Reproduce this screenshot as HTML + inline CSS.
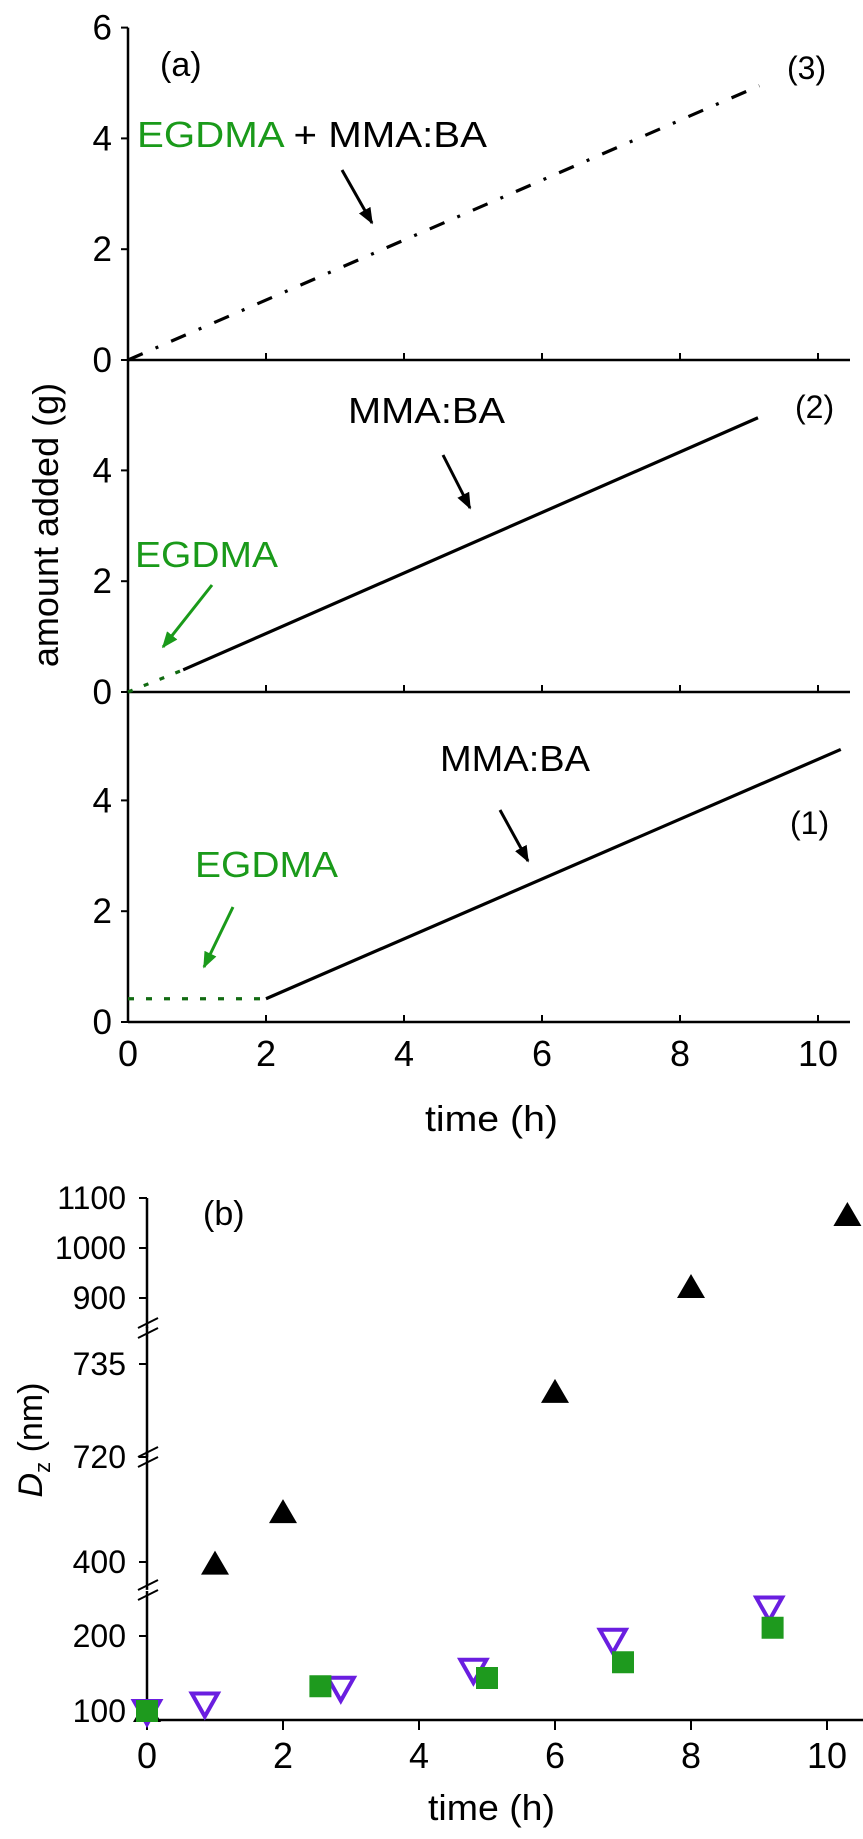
<!DOCTYPE html>
<html><head><meta charset="utf-8"><style>
html,body{margin:0;padding:0;background:#fff;}
svg{display:block;font-family:"Liberation Sans",Arial,sans-serif;}
</style></head><body>
<svg id="fig" width="863" height="1839" viewBox="0 0 863 1839" xmlns="http://www.w3.org/2000/svg">
<defs>
<marker id="ahk" viewBox="0 0 10 10" refX="9" refY="5" markerWidth="5.5" markerHeight="5.5" orient="auto"><path d="M0,1 L10,5 L0,9 z" fill="#000"/></marker>
<marker id="ahg" viewBox="0 0 10 10" refX="9" refY="5" markerWidth="5.5" markerHeight="5.5" orient="auto"><path d="M0,1 L10,5 L0,9 z" fill="#1a9a1a"/></marker>
</defs>
<g id="panelA"></g>
<g id="panelB"></g>
<text x="160" y="76" font-size="34">(a)</text>
<text x="137" y="147" font-size="36" textLength="350" lengthAdjust="spacingAndGlyphs"><tspan fill="#1a9a1a">EGDMA</tspan> + MMA:BA</text>
<line x1="342" y1="170" x2="372" y2="223" stroke="#000" stroke-width="3" marker-end="url(#ahk)"/>
<text x="787" y="79" font-size="32">(3)</text>
<text x="348" y="423" font-size="36" textLength="157" lengthAdjust="spacingAndGlyphs">MMA:BA</text>
<line x1="443" y1="455" x2="470" y2="508" stroke="#000" stroke-width="3" marker-end="url(#ahk)"/>
<text x="795" y="418" font-size="32">(2)</text>
<text x="135" y="567" font-size="36" fill="#1a9a1a" textLength="143" lengthAdjust="spacingAndGlyphs">EGDMA</text>
<line x1="212" y1="585" x2="163" y2="647" stroke="#1a9a1a" stroke-width="3" marker-end="url(#ahg)"/>
<text x="440" y="771" font-size="36" textLength="150" lengthAdjust="spacingAndGlyphs">MMA:BA</text>
<line x1="500" y1="810" x2="528" y2="861" stroke="#000" stroke-width="3" marker-end="url(#ahk)"/>
<text x="790" y="834" font-size="32">(1)</text>
<text x="195" y="877" font-size="36" fill="#1a9a1a" textLength="143" lengthAdjust="spacingAndGlyphs">EGDMA</text>
<line x1="233" y1="907" x2="204" y2="967" stroke="#1a9a1a" stroke-width="3" marker-end="url(#ahg)"/>
<text transform="translate(58,525) rotate(-90)" text-anchor="middle" font-size="36">amount added (g)</text>
<text x="425" y="1131" font-size="36" textLength="133" lengthAdjust="spacingAndGlyphs">time (h)</text>
<text x="203" y="1225" font-size="34">(b)</text>
<text transform="translate(42,1440) rotate(-90)" text-anchor="middle" font-size="34"><tspan font-style="italic">D</tspan><tspan font-size="22" dy="8">z</tspan><tspan dy="-8"> (nm)</tspan></text>
<text x="428" y="1820" font-size="36" textLength="127" lengthAdjust="spacingAndGlyphs">time (h)</text>
</svg>
<script>
// ---------- Panel (a) data ----------
const feedTimes3 = [0, 9.15];
const feedAmounts3 = [0, 4.95];
const egdmaTimes2 = [0, 0.8];
const egdmaAmounts2 = [0, 0.4];
const mmaTimes2 = [0.8, 9.13];
const mmaAmounts2 = [0.4, 4.95];
const egdmaTimes1 = [0, 2];
const egdmaAmounts1 = [0.42, 0.42];
const mmaTimes1 = [2, 10.33];
const mmaAmounts1 = [0.42, 4.92];
const yTicksA = [0, 2, 4, 6];
const xTicksA = [0, 2, 4, 6, 8, 10];

// ---------- Panel (b) data ----------
const triTimes = [0, 1, 2, 6, 8, 10.3];
const triDz = [100, 395, 552, 730.5, 922, 1066];
const invTimes = [0, 0.85, 2.85, 4.8, 6.85, 9.15];
const invDz = [100, 110, 131, 155, 195, 238];
const sqTimes = [0, 2.55, 5.0, 7.0, 9.2];
const sqDz = [100, 133, 144, 165, 211];
const yTicksB = [100, 200, 400, 720, 735, 900, 1000, 1100];
const xTicksB = [0, 2, 4, 6, 8, 10];

const NS = "http://www.w3.org/2000/svg";
function mk(parent, tag, attrs) {
  const e = document.createElementNS(NS, tag);
  for (const k in attrs) e.setAttribute(k, attrs[k]);
  parent.appendChild(e);
  return e;
}
const zeroA = [360, 692, 1022];
const xA = t => 128 + 69 * t;
const yA = (p, v) => zeroA[p] - 55.4 * v;

const gA = document.getElementById('panelA');
for (let p = 0; p < 3; p++) {
  const ax = mk(gA, 'line', {x1: 128, y1: yA(p, 6), x2: 128, y2: zeroA[p], stroke: '#000', 'stroke-width': 2.5});
  
  
  const xx = mk(gA, 'line', {x1: 128, y1: zeroA[p], x2: 850, y2: zeroA[p], stroke: '#000', 'stroke-width': 2.5});
  
  
  xTicksA.forEach(t => {
    const tk = mk(gA, 'line', {x1: xA(t), y1: zeroA[p], x2: xA(t), y2: zeroA[p] - 7, stroke: '#000', 'stroke-width': 2});
    
    
  });
  yTicksA.forEach(v => {
    if (p > 0 && v === 6) return;
    const tk = mk(gA, 'line', {x1: 121, y1: yA(p, v), x2: 128, y2: yA(p, v), stroke: '#000', 'stroke-width': 2});
    
    
    const lb = mk(gA, 'text', {x: 112, y: yA(p, v) + 12, 'text-anchor': 'end', 'font-size': 35});
    lb.textContent = v;
    
    
  });
}
xTicksA.forEach(t => {
  const lb = mk(gA, 'text', {x: xA(t), y: 1066, 'text-anchor': 'middle', 'font-size': 36});
  lb.textContent = t;
  
  
});
function lineA(p, ts, vs, stroke, dash, name) {
  const l = mk(gA, 'line', {x1: xA(ts[0]), y1: yA(p, vs[0]), x2: xA(ts[1]), y2: yA(p, vs[1]), stroke: stroke, 'stroke-width': 3.2});
  if (dash) l.setAttribute('stroke-dasharray', dash);
  
  
}
lineA(0, feedTimes3, feedAmounts3, '#000', '16 14 3 14', 'line-3-egdma-mma-ba');
lineA(1, egdmaTimes2, egdmaAmounts2, '#126b12', '5 12', 'line-2-egdma');
lineA(1, mmaTimes2, mmaAmounts2, '#000', null, 'line-2-mma-ba');
lineA(2, egdmaTimes1, egdmaAmounts1, '#126b12', '6 12', 'line-1-egdma');
lineA(2, mmaTimes1, mmaAmounts1, '#000', null, 'line-1-mma-ba');

const segs = [
  {lo: 88, hi: 260, ref: 200, py: 1636, k: 0.75},
  {lo: 315, hi: 720, ref: 400, py: 1562, k: 0.328},
  {lo: 720, hi: 741, ref: 720, py: 1457, k: 6.2},
  {lo: 840, hi: 1100, ref: 900, py: 1298, k: 0.5}
];
function yB(v) {
  let s = segs[0];
  for (const g of segs) if (v >= g.lo) s = g;
  return s.py - (v - s.ref) * s.k;
}
const xB = t => 147 + 68 * t;
const gB = document.getElementById('panelB');
segs.forEach(s => {
  const a = mk(gB, 'line', {x1: 147, y1: yB(s.hi) + (s.hi === 720 ? -6 : 0), x2: 147, y2: s.py - (s.lo - s.ref) * s.k, stroke: '#000', 'stroke-width': 2.5});
  
  
});
[1328, 1457, 1590].forEach(y => {
  [-5, 5].forEach(d => {
    const b = mk(gB, 'line', {x1: 138, y1: y + d + 5, x2: 158, y2: y + d - 5, stroke: '#000', 'stroke-width': 2});
    
    
  });
});
const xaxB = mk(gB, 'line', {x1: 147, y1: 1720, x2: 863, y2: 1720, stroke: '#000', 'stroke-width': 2.5});


xTicksB.forEach(t => {
  const tk = mk(gB, 'line', {x1: xB(t), y1: 1720, x2: xB(t), y2: 1730, stroke: '#000', 'stroke-width': 2});
  
  
  const lb = mk(gB, 'text', {x: xB(t), y: 1768, 'text-anchor': 'middle', 'font-size': 36});
  lb.textContent = t;
  
  
});
yTicksB.forEach(v => {
  const y = yB(v);
  const tk = mk(gB, 'line', {x1: 139, y1: y, x2: 147, y2: y, stroke: '#000', 'stroke-width': 2});
  
  
  const lb = mk(gB, 'text', {x: 126, y: y + 11, 'text-anchor': 'end', 'font-size': 32});
  lb.textContent = v;
  
  
});
triTimes.forEach((t, i) => {
  const x = xB(t), y = yB(triDz[i]);
  const m = mk(gB, 'path', {d: `M${x - 14},${y + 11} L${x + 14},${y + 11} L${x},${y - 13} Z`, fill: '#000'});
  
  
});
invTimes.forEach((t, i) => {
  const x = xB(t), y = yB(invDz[i]);
  const m = mk(gB, 'path', {d: `M${x - 13},${y - 10} L${x + 13},${y - 10} L${x},${y + 13} Z`, fill: 'none', stroke: '#6a1ee0', 'stroke-width': 4});
  
  
});
sqTimes.forEach((t, i) => {
  const x = xB(t), y = yB(sqDz[i]);
  const m = mk(gB, 'rect', {x: x - 11, y: y - 11, width: 22, height: 22, fill: '#1e9a1e'});
  
  
});
</script>
</body></html>
